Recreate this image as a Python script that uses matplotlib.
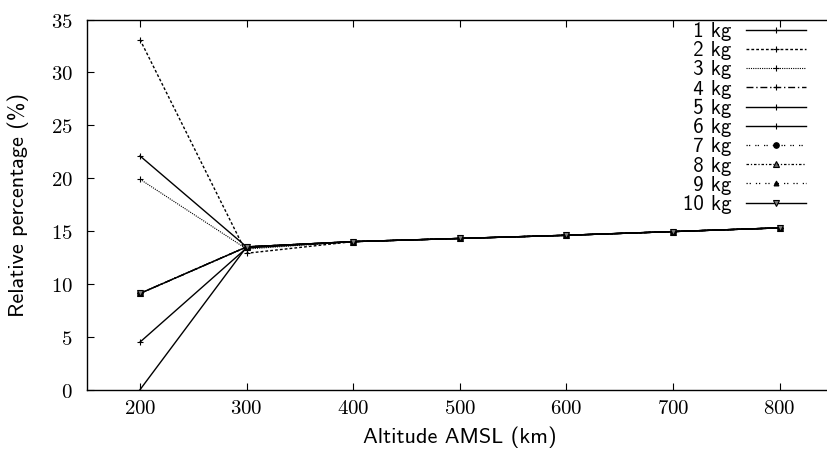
import matplotlib
matplotlib.use("Agg")
import matplotlib.pyplot as plt
from matplotlib.ticker import FuncFormatter

plt.rcParams["mathtext.fontset"] = "cm"

altitudes = [200, 300, 400, 500, 600, 700, 800]
labels = ["\u20071 kg", "\u20072 kg", "\u20073 kg", "\u20074 kg", "\u20075 kg",
          "\u20076 kg", "\u20077 kg", "\u20078 kg", "\u20079 kg", "10 kg"]
s1 = [0.0, 13.5, 14.0, 14.3, 14.6, 14.95, 15.3]
s2 = [33.1, 12.9, 14.0, 14.3, 14.6, 14.95, 15.3]
s3 = [19.9, 13.3, 14.0, 14.3, 14.6, 14.95, 15.3]
s4 = [9.1, 13.5, 14.0, 14.3, 14.6, 14.95, 15.3]
s5 = [22.1, 13.5, 14.0, 14.3, 14.6, 14.95, 15.3]
s6 = [4.5, 13.4, 14.0, 14.3, 14.6, 14.95, 15.3]
s7 = [9.1, 13.5, 14.0, 14.3, 14.6, 14.95, 15.3]
s8 = [9.1, 13.5, 14.0, 14.3, 14.6, 14.95, 15.3]
s9 = [9.1, 13.5, 14.0, 14.3, 14.6, 14.95, 15.3]
s10 = [9.1, 13.5, 14.0, 14.3, 14.6, 14.95, 15.3]
series = [s1, s2, s3, s4, s5, s6, s7, s8, s9, s10]

styles = [
    dict(ls="-", marker="+", ms=5, lw=1.0),
    dict(ls=(0, (2, 1.5)), marker="+", ms=5, lw=1.0),
    dict(ls=(0, (1, 1)), marker="+", ms=5, lw=0.8),
    dict(ls=(0, (5, 2, 1, 2)), marker="+", ms=5, lw=1.0),
    dict(ls="-", marker="+", ms=5, lw=1.0),
    dict(ls="-", marker="+", ms=5, lw=1.0),
    dict(ls=(0, (1, 1, 1, 4)), marker="o", ms=4, lw=0.9, mfc="black"),
    dict(ls=(0, (2, 1.5, 1, 1.5)), marker="^", ms=4.5, lw=0.9, mfc="0.4"),
    dict(ls=(0, (1, 1.5, 1, 4)), marker="^", ms=3.5, lw=0.9, mfc="black"),
    dict(ls="-", marker="v", ms=4.5, lw=1.0, mfc="0.5"),
]

W, H = 827, 449
fig = plt.figure(figsize=(W / 100, H / 100), dpi=100)
left, right, top, bottom = 86.7, 833.0, 19.5, 389.7
ax = fig.add_axes([left / W, 1 - bottom / H, (right - left) / W, (bottom - top) / H])

for y, lab, st in zip(series, labels, styles):
    ax.plot(altitudes, y, color="black", label=lab, mec="black", mew=0.8, **st)

ax.set_xlim(150, 850)
ax.set_ylim(0, 35)
ax.set_xticks(altitudes)
ax.set_yticks(range(0, 36, 5))
ax.xaxis.set_major_formatter(FuncFormatter(lambda v, p: "$%d$" % v))
ax.yaxis.set_major_formatter(FuncFormatter(lambda v, p: "$%d$" % v))
ax.tick_params(direction="in", length=5, width=0.8, top=True, right=False, labelsize=15)
ax.tick_params(axis="x", pad=6)
ax.tick_params(axis="y", pad=10)
for sp in ax.spines.values():
    sp.set_linewidth(1.0)

ax.set_xlabel("Altitude AMSL (km)", family="cmss10", fontsize=16)
ax.set_ylabel("Relative percentage (%)", family="cmss10", fontsize=16)
ax.xaxis.set_label_coords(0.5, -(437 - bottom) / (bottom - top), transform=ax.transAxes)
ax.yaxis.set_label_coords(-(left - 18) / (right - left), 0.5, transform=ax.transAxes)
ax.xaxis.label.set_va("center")
ax.yaxis.label.set_va("center")

leg = ax.legend(loc="upper right", bbox_to_anchor=(806 / W, 1 - 22 / H),
                bbox_transform=fig.transFigure, frameon=False, markerfirst=False,
                prop=dict(family=["cmss10", "DejaVu Sans"], size=15),
                handlelength=2.9, handletextpad=0.67, labelspacing=0.01,
                borderpad=0, borderaxespad=0)

fig.savefig("out.png", dpi=100)
